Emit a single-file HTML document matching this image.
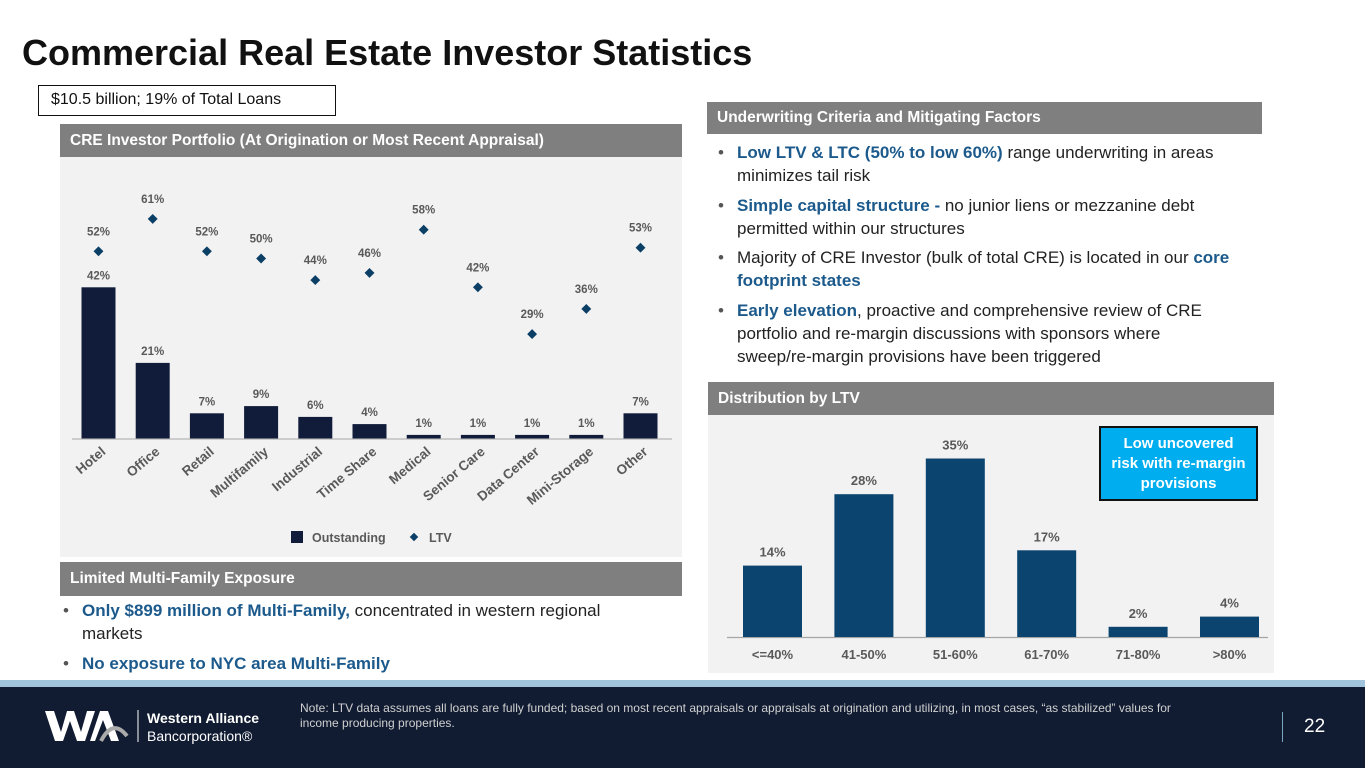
<!DOCTYPE html>
<html><head><meta charset="utf-8">
<style>
*{margin:0;padding:0;box-sizing:border-box}
body{width:1365px;height:768px;position:relative;background:#fff;font-family:"Liberation Sans",sans-serif;overflow:hidden}
.abs{position:absolute}
.hdr{position:absolute;background:#7f7f7f;color:#fff;font-size:15.5px;font-weight:bold;padding-left:10px;display:flex;align-items:center}
.bl{position:absolute;font-size:16.5px;color:#222;line-height:23px}
.bl b{color:#1c5a8c}
.dot{position:absolute;left:-19px;top:0;color:#555}
</style></head><body>
<div class="abs" style="left:22px;top:32px;font-size:36px;font-weight:bold;color:#111">Commercial Real Estate Investor Statistics</div>
<div class="abs" style="left:38px;top:85px;width:298px;height:31px;border:1px solid #111;font-size:16px;padding:5px 0 0 12px;color:#111">$10.5 billion; 19% of Total Loans</div>

<div class="abs" style="left:60px;top:124px;width:622px;height:433px;background:#f2f2f2"></div>
<div class="hdr" style="left:60px;top:124px;width:622px;height:33px">CRE Investor Portfolio (At Origination or Most Recent Appraisal)</div>
<svg class="abs" style="left:0;top:0" width="700" height="560" id="c1"></svg>

<div class="hdr" style="left:60px;top:562px;width:622px;height:34px">Limited Multi-Family Exposure</div>
<div class="bl" style="left:82px;top:599px;width:555px;font-size:17px"><span class="dot">•</span><b>Only $899 million of Multi-Family,</b> concentrated in western regional markets</div>
<div class="bl" style="left:82px;top:652px;font-size:17px"><span class="dot">•</span><b>No exposure to NYC area Multi-Family</b></div>

<div class="hdr" style="left:707px;top:102px;width:555px;height:32px">Underwriting Criteria and Mitigating Factors</div>
<div class="bl" style="left:737px;top:141px;width:505px;font-size:17px"><span class="dot">•</span><b>Low LTV &amp; LTC (50% to low 60%)</b> range underwriting in areas minimizes tail risk</div>
<div class="bl" style="left:737px;top:194px;width:490px;font-size:17px"><span class="dot">•</span><b>Simple capital structure -</b> no junior liens or mezzanine debt permitted within our structures</div>
<div class="bl" style="left:737px;top:246px;width:530px;font-size:17px"><span class="dot">•</span>Majority of CRE Investor (bulk of total CRE) is located in our <b>core footprint states</b></div>
<div class="bl" style="left:737px;top:299px;width:490px;font-size:17px"><span class="dot">•</span><b>Early elevation</b>, proactive and comprehensive review of CRE portfolio and re-margin discussions with sponsors where sweep/re-margin provisions have been triggered</div>

<div class="abs" style="left:708px;top:415px;width:566px;height:258px;background:#f2f2f2"></div>
<div class="hdr" style="left:708px;top:382px;width:566px;height:33px">Distribution by LTV</div>
<svg class="abs" style="left:0;top:0" width="1365" height="680" id="c2"></svg>
<div class="abs" style="left:1099px;top:426px;width:159px;height:75px;background:#00aeef;border:2px solid #111;color:#fff;font-size:15px;font-weight:bold;text-align:center;line-height:20px;padding-top:6px">Low uncovered<br>risk with re-margin<br>provisions</div>

<div class="abs" style="left:0;top:680px;width:1365px;height:7px;background:#9fc4dc"></div>
<div class="abs" style="left:0;top:687px;width:1365px;height:81px;background:#111c32"></div>
<svg class="abs" style="left:45px;top:708px" width="100" height="36">
<polygon points="0,3 9,3 16,24 22,3 29,3 36,24 42,3 50,3 40,33 32,33 25,13 18,33 10,33" fill="#fff"/>
<polygon points="55,3 63,3 74,33 66,33 58,12 50,33 45,33" fill="#fff"/>
<path d="M56,33 Q68,10 82,28" stroke="#aaa" stroke-width="4" fill="none"/>
<line x1="93" y1="2" x2="93" y2="34" stroke="#fff" stroke-width="1"/>
</svg>
<div class="abs" style="left:147px;top:709px;color:#fff;font-size:14px;font-weight:bold;line-height:18px">Western Alliance<br><span style="font-weight:normal">Bancorporation®</span></div>
<div class="abs" style="left:300px;top:701px;width:925px;color:#d0d0d0;font-size:12px;line-height:15px">Note: LTV data assumes all loans are fully funded; based on most recent appraisals or appraisals at origination and utilizing, in most cases, “as stabilized” values for<br>income producing properties.</div>
<div class="abs" style="left:1282px;top:712px;width:1px;height:30px;background:#7aa6c2"></div>
<div class="abs" style="left:1304px;top:716px;color:#fff;font-size:19px">22</div>

<script>
const cats=["Hotel","Office","Retail","Multifamily","Industrial","Time Share","Medical","Senior Care","Data Center","Mini-Storage","Other"];
const outstanding=[42,21,7,9,6,4,1,1,1,1,7];
const ltv=[52,61,52,50,44,46,58,42,29,36,53];
const ltvCats=["<=40%","41-50%","51-60%","61-70%","71-80%",">80%"];
const ltvDist=[14,28,35,17,2,4];
const NS="http://www.w3.org/2000/svg";
function mk(svg,tag,attrs,txt){const e=document.createElementNS(NS,tag);for(const k in attrs)e.setAttribute(k,attrs[k]);if(txt!==undefined)e.textContent=txt;svg.appendChild(e);return e;}
const s1=document.getElementById('c1');
const x1=i=>98.5+i*54.2, y1=v=>438.5-v*3.6;
mk(s1,'line',{x1:72,y1:439,x2:672,y2:439,stroke:'#bfbfbf','stroke-width':1.5});
cats.forEach((c,i)=>{
 const cx=x1(i);
 let r=mk(s1,'rect',{x:cx-17,y:y1(outstanding[i]),width:34,height:438.5-y1(outstanding[i]),fill:'#111c3a'});
 
 
 let t=mk(s1,'text',{x:cx,y:y1(outstanding[i])-8,'text-anchor':'middle','font-size':11.5,'font-weight':'bold',fill:'#595959'},outstanding[i]+'%');
 
 
 const ly=y1(ltv[i]);
 let d=mk(s1,'rect',{x:cx-3.5,y:ly-3.5,width:7,height:7,fill:'#0c3f66',transform:`rotate(45 ${cx} ${ly})`});
 
 
 let lt=mk(s1,'text',{x:cx,y:ly-16,'text-anchor':'middle','font-size':11.5,'font-weight':'bold',fill:'#595959'},ltv[i]+'%');
 
 
 let cl=mk(s1,'text',{x:cx+8,y:453,'text-anchor':'end','font-size':13.5,'font-weight':'bold',fill:'#595959',transform:`rotate(-40 ${cx+8} 453)`},c);
 
 
});
let lg=mk(s1,'rect',{x:291,y:531,width:12,height:12,fill:'#111c3a'});


mk(s1,'text',{x:312,y:542,'font-size':12.5,'font-weight':'bold',fill:'#595959'},'Outstanding');
let ld=mk(s1,'rect',{x:411,y:534,width:6,height:6,fill:'#0c3f66',transform:'rotate(45 414 537)'});


mk(s1,'text',{x:429,y:542,'font-size':12.5,'font-weight':'bold',fill:'#595959'},'LTV');
const s2=document.getElementById('c2');
const x2=i=>772.5+i*91.4, y2=v=>637-v*5.1;
mk(s2,'line',{x1:727,y1:637.5,x2:1268,y2:637.5,stroke:'#a6a6a6','stroke-width':1.2});
ltvCats.forEach((c,i)=>{
 const cx=x2(i);
 let r=mk(s2,'rect',{x:cx-29.5,y:y2(ltvDist[i]),width:59,height:637-y2(ltvDist[i]),fill:'#0b446e'});
 
 
 let t=mk(s2,'text',{x:cx,y:y2(ltvDist[i])-9,'text-anchor':'middle','font-size':13,'font-weight':'bold',fill:'#595959'},ltvDist[i]+'%');
 
 
 let cl=mk(s2,'text',{x:cx,y:659,'text-anchor':'middle','font-size':13,'font-weight':'bold',fill:'#595959'},c);
 
 
});
</script>
</body></html>
